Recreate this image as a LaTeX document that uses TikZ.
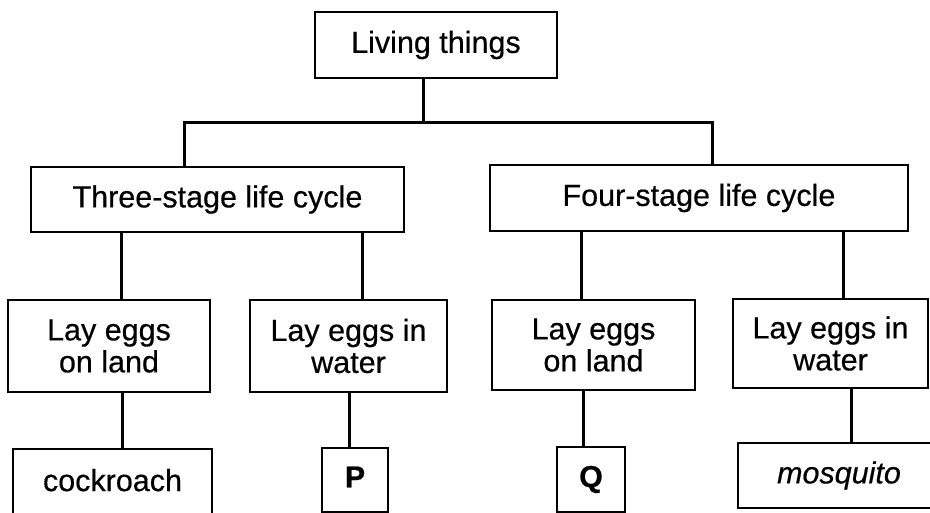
\documentclass[tikz,border=0pt]{standalone}
\usepackage{fontspec}
\setmainfont[FakeBold=0.5]{Liberation Sans}
\begin{document}
\begin{tikzpicture}[x=1pt,y=-1pt,
  box/.style={draw=black, line width=2.9pt, inner sep=0pt, align=center,
    font=\fontsize{30.5}{32}\selectfont},
  link/.style={draw=black, line width=3pt}]
\clip (0,0) rectangle (930,513);
\fill[white] (0,0) rectangle (930,513);
% nodes (center, width, height)
\node[box, minimum width=242pt, minimum height=66pt] (lt) at (436,45) {Living things};
\node[box, minimum width=373pt, minimum height=65pt] (three) at (217.5,199.5) {Three-stage life cycle};
\node[box, minimum width=418pt, minimum height=66pt] (four) at (699,198) {Four-stage life cycle};
\node[box, minimum width=202pt, minimum height=92pt] (b1) at (109,346) {Lay eggs\\on land};
\node[box, minimum width=197pt, minimum height=92pt] (b2) at (348.5,346) {Lay eggs in\\water};
\node[box, minimum width=203pt, minimum height=90pt] (b3) at (593.5,345) {Lay eggs\\on land};
\node[box, minimum width=195pt, minimum height=89pt] (b4) at (830.5,343.5) {Lay eggs in\\water};
\node[box, minimum width=199pt, minimum height=74pt] (cock) at (112.5,486) {\raisebox{12pt}{cockroach}};
\node[box, minimum width=66pt, minimum height=64pt] (p) at (355,480) {\raisebox{6pt}{\textbf{P}}};
\node[box, minimum width=68pt, minimum height=65pt] (q) at (591,479.5) {\raisebox{6pt}{\textbf{Q}}};
\node[box, minimum width=202pt, minimum height=65pt] (mos) at (839,475.5) {\raisebox{4pt}{\textit{mosquito}}};
% junction coordinates
\coordinate (j0) at (423,123);
\coordinate (jl) at (184,123);
\coordinate (jr) at (712,123);
\coordinate (c1) at (121,0);
\coordinate (c2) at (362,0);
\coordinate (c3) at (581,0);
\coordinate (c4) at (843,0);
\coordinate (d1) at (122,0);
\coordinate (d2) at (349,0);
\coordinate (d3) at (583,0);
\coordinate (d4) at (851,0);
% connectors
\draw[link] (lt.south -| j0) -- (j0);
\draw[link] (three.north -| jl) -- (jl) -- (jr) -- (four.north -| jr);
\draw[link] (three.south -| c1) -- (b1.north -| c1);
\draw[link] (three.south -| c2) -- (b2.north -| c2);
\draw[link] (four.south -| c3) -- (b3.north -| c3);
\draw[link] (four.south -| c4) -- (b4.north -| c4);
\draw[link] (b1.south -| d1) -- (cock.north -| d1);
\draw[link] (b2.south -| d2) -- (p.north -| d2);
\draw[link] (b3.south -| d3) -- (q.north -| d3);
\draw[link] (b4.south -| d4) -- (mos.north -| d4);
\end{tikzpicture}
\end{document}
